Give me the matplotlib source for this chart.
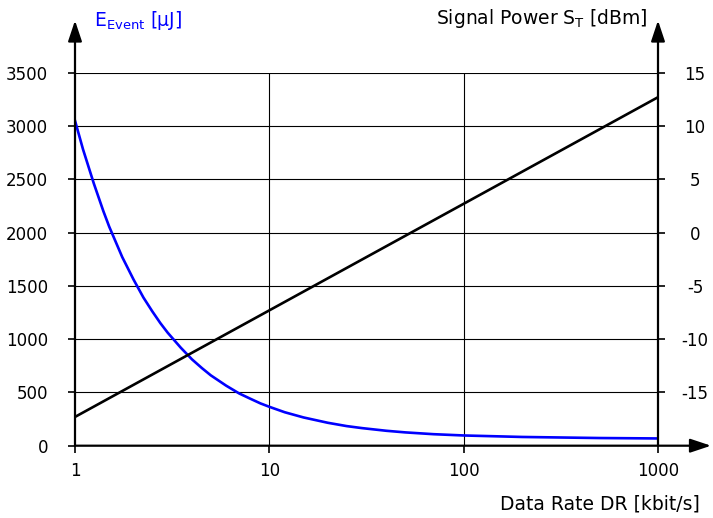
import numpy as np
import matplotlib
matplotlib.use("Agg")
import matplotlib.pyplot as plt

plt.rcParams["axes.unicode_minus"] = False

# Werte
data_rate = [1, 1.1, 1.25, 1.4, 1.5, 1.75, 2, 2.25, 2.5, 2.75, 3, 3.5, 4, 4.5, 5, 6, 7, 8, 9, 10,
             12, 15, 20, 25, 30, 40, 50, 70, 100, 200, 500, 1000]
e_event = [3050, 2780, 2460, 2200, 2055, 1770, 1560, 1390, 1260, 1150, 1060, 920, 810, 728, 660, 563,
           490, 440, 397, 365, 314, 265, 215, 184, 165, 140, 125, 108, 96, 82, 72, 68]

power_rate = [1, 10, 100, 1000]
signal_power = [-17.3, -7.3, 2.7, 12.7]

x_ticks = [1, 10, 100, 1000]
x_labels = ["1", "10", "100", "1000"]
left_ticks = [0, 500, 1000, 1500, 2000, 2500, 3000, 3500]
right_ticks = [-15, -10, -5, 0, 5, 10, 15]

W, H = 713, 518
fig = plt.figure(figsize=(W / 100, H / 100), dpi=100)
x0, x1, y0, y1 = 75, 658, 445.7, 72.7
ax = fig.add_axes([x0 / W, (H - y0) / H, (x1 - x0) / W, (y0 - y1) / H])
ax2 = ax.twinx()

ax.plot(data_rate, e_event, color="#0000ff", lw=1.9, zorder=3)
ax2.plot(power_rate, signal_power, color="black", lw=1.9, zorder=3)

ax.set_xscale("log")
ax.set_xlim(1, 1000)
ax.set_ylim(0, 3500)
ax2.set_ylim(-20, 15)
ax.set_xticks(x_ticks)
ax.set_xticklabels(x_labels)
ax.xaxis.set_minor_locator(matplotlib.ticker.NullLocator())
ax.set_yticks(left_ticks)
ax2.set_yticks(right_ticks)

fs = 12
ax.tick_params(axis="x", direction="out", length=5, width=1.2, pad=7, labelsize=fs)
ax.tick_params(axis="y", direction="out", length=5, width=1.2, pad=14.4, labelsize=fs)
ax2.tick_params(axis="y", direction="out", length=5, width=1.2, pad=21.6, labelsize=fs)
for t in ax2.yaxis.get_major_ticks():
    t.label2.set_horizontalalignment("center")

for a in (ax, ax2):
    for s in a.spines.values():
        s.set_visible(False)

ax.set_axisbelow(True)
for v in left_ticks[1:]:
    ax.axhline(v, color="black", lw=0.8, zorder=1)
for v in [10, 100]:
    ax.axvline(v, color="black", lw=0.8, zorder=1)

# Achsen mit Pfeilen
arrow = dict(arrowstyle="-|>,head_length=0.42,head_width=0.14", mutation_scale=30,
             color="black", lw=1.6, shrinkA=0, shrinkB=0)
yb = H - y0
ax.annotate("", xy=(x0, H - 20.5), xytext=(x0, yb), xycoords="figure pixels",
            textcoords="figure pixels", arrowprops=arrow, annotation_clip=False)
ax.annotate("", xy=(x1, H - 20.5), xytext=(x1, yb), xycoords="figure pixels",
            textcoords="figure pixels", arrowprops=arrow, annotation_clip=False)
ax.annotate("", xy=(711, yb), xytext=(x0, yb), xycoords="figure pixels",
            textcoords="figure pixels", arrowprops=arrow, annotation_clip=False)

fs_lab = 13.5
fig.text(94 / W, (H - 20) / H, r"E$_{\mathrm{Event}}$ [µJ]", color="#0000ff",
         fontsize=fs_lab, ha="left", va="center")
fig.text(648 / W, (H - 19) / H, r"Signal Power S$_{\mathrm{T}}$ [dBm]", color="black",
         fontsize=fs_lab, ha="right", va="center")
fig.text(700 / W, (H - 504) / H, "Data Rate DR [kbit/s]", color="black",
         fontsize=fs_lab, ha="right", va="center")

fig.savefig("out.png", dpi=100)
